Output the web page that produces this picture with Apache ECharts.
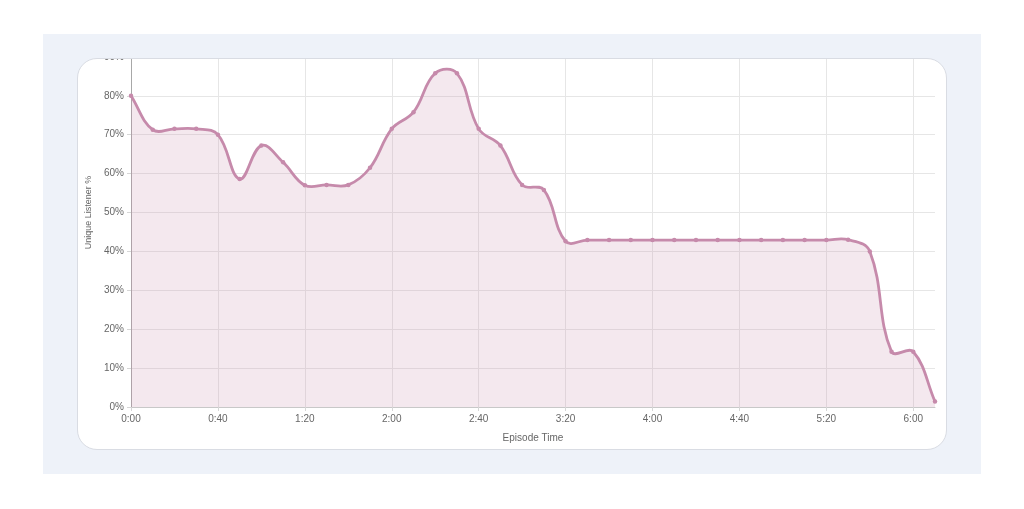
<!DOCTYPE html>
<html>
<head>
<meta charset="utf-8">
<script src="https://cdn.jsdelivr.net/npm/echarts@6/dist/echarts.min.js"></script>
<style>
  html, body { margin:0; padding:0; background:#ffffff; width:1024px; height:509px; overflow:hidden; }
  #bg { position:absolute; left:43px; top:34px; width:938px; height:440px; background:#eef2f9; }
  #card { position:absolute; left:77px; top:58px; width:868px; height:390px; background:#ffffff;
          border:1px solid #d9dce3; border-radius:20px; overflow:hidden; }
  #chart { position:absolute; left:-78px; top:-59px; width:1024px; height:509px; }
</style>
</head>
<body>
<div id="bg"></div>
<div id="card"><div id="chart"></div></div>
<script>
// Episode time in seconds
const times = [0,10,20,30,40,50,60,70,80,90,100,110,120,130,140,150,160,170,180,190,
               200,210,220,230,240,250,260,270,280,290,300,310,320,330,340,350,360,370];
// Unique listener %
const listeners = [80,71.3,71.5,71.5,70.0,58.6,67.2,62.9,57.0,57.1,57.1,61.5,71.5,75.8,85.8,85.8,71.5,67.2,57.1,55.8,
                   42.6,42.9,42.9,42.9,42.9,42.9,42.9,42.9,42.9,42.9,42.9,42.9,42.9,43.0,40.0,14.2,14.2,1.4];
const yTicks = { min: 0, max: 100, interval: 10 };
const xTicks = { min: 0, max: 370, interval: 40 };

function fmtTime(v) {
  const m = Math.floor(v / 60), s = Math.round(v % 60);
  return m + ':' + (s < 10 ? '0' : '') + s;
}

const LINE = '#c68aab';
const FILL = 'rgba(198,138,171,0.2)';
const TENSION = 0.4;

// Cardinal-spline path built from pixel positions given by the chart's own axes
function renderCurve(params, api) {
  const pts = times.map((t, i) => api.coord([t, listeners[i]]));
  const n = pts.length;
  const cps = pts.map((p, i) => {
    const prev = pts[Math.max(0, i - 1)], next = pts[Math.min(n - 1, i + 1)];
    const d01 = Math.hypot(p[0] - prev[0], p[1] - prev[1]);
    const d12 = Math.hypot(next[0] - p[0], next[1] - p[1]);
    let s01 = d01 / (d01 + d12), s12 = d12 / (d01 + d12);
    if (!isFinite(s01)) s01 = 0; if (!isFinite(s12)) s12 = 0;
    const fa = TENSION * s01, fb = TENSION * s12;
    return {
      prev: [p[0] - fa * (next[0] - prev[0]), p[1] - fa * (next[1] - prev[1])],
      next: [p[0] + fb * (next[0] - prev[0]), p[1] + fb * (next[1] - prev[1])]
    };
  });
  let d = 'M' + pts[0][0] + ',' + pts[0][1];
  for (let i = 1; i < n; i++) {
    const c1 = cps[i - 1].next, c2 = cps[i].prev;
    d += ' C' + c1[0] + ',' + c1[1] + ' ' + c2[0] + ',' + c2[1] + ' ' + pts[i][0] + ',' + pts[i][1];
  }
  const base0 = api.coord([times[0], yTicks.min]);
  const baseN = api.coord([times[n - 1], yTicks.min]);
  const area = d + ' L' + baseN[0] + ',' + baseN[1] + ' L' + base0[0] + ',' + base0[1] + ' Z';
  return {
    type: 'group',
    children: [
      { type: 'path', shape: { pathData: area }, style: { fill: FILL, stroke: null } },
      { type: 'path', shape: { pathData: d }, style: { fill: null, stroke: LINE, lineWidth: 2.8, lineJoin: 'round' } }
    ]
  };
}

const chart = echarts.init(document.getElementById('chart'), null, { renderer: 'canvas' });
const font = 'Liberation Sans, Arial, Helvetica, sans-serif';
chart.setOption({
  animation: false,
  grid: { left: 131, right: 89, top: 18, bottom: 102, containLabel: false },
  xAxis: {
    type: 'value', min: xTicks.min, max: xTicks.max, interval: xTicks.interval,
    name: 'Episode Time', nameLocation: 'middle', nameGap: 26, nameMoveOverlap: false,
    nameTextStyle: { color: '#666', fontSize: 10, fontFamily: font },
    axisLine: { show: true, lineStyle: { color: '#c8c8c8', width: 1 } },
    axisTick: { show: true, length: 4, lineStyle: { color: '#d6d6d6' } },
    axisLabel: { color: '#666', fontSize: 10, fontFamily: font, margin: 7, showMaxLabel: false,
                 formatter: fmtTime },
    splitLine: { show: true, showMaxLine: false, lineStyle: { color: '#e6e6e6', width: 1 } }
  },
  yAxis: {
    type: 'value', min: yTicks.min, max: yTicks.max, interval: yTicks.interval,
    name: 'Unique Listener %', nameLocation: 'middle', nameGap: 38, nameMoveOverlap: false,
    nameTextStyle: { color: '#666', fontSize: 9, fontFamily: font },
    axisLine: { show: true, lineStyle: { color: '#a8a8a8', width: 1 } },
    axisTick: { show: true, length: 4, lineStyle: { color: '#d6d6d6' } },
    axisLabel: { color: '#666', fontSize: 10, fontFamily: font, margin: 7,
                 formatter: '{value}%' },
    splitLine: { show: true, lineStyle: { color: '#e6e6e6', width: 1 } }
  },
  series: [
    {
      type: 'custom',
      renderItem: renderCurve,
      data: [[times[0], listeners[0]]],
      z: 2,
      silent: true
    },
    {
      type: 'line',
      data: times.map((t, i) => [t, listeners[i]]),
      symbol: 'circle',
      symbolSize: 4.5,
      showAllSymbol: true,
      itemStyle: { color: LINE },
      lineStyle: { opacity: 0 },
      z: 3
    }
  ]
});
</script>
</body>
</html>
